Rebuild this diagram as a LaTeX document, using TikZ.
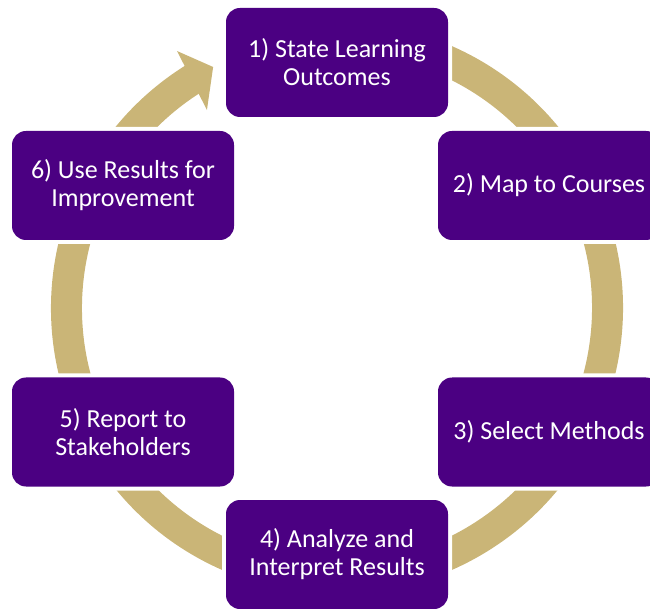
\documentclass[tikz,border=0pt]{standalone}
\usepackage{fontspec}
\setmainfont{Carlito}
\definecolor{uwpurple}{RGB}{75,0,130}
\definecolor{uwgold}{RGB}{202,181,119}
\begin{document}
\begin{tikzpicture}[x=1pt,y=1pt,
  stage/.style={fill=uwpurple, rounded corners=14pt, minimum width=222pt,
    minimum height=109pt, text=white, align=center, inner sep=0pt,
    font=\fontsize{26}{28}\selectfont, preaction={draw=white, line width=8pt}},
  ring/.style={draw=uwgold, line width=31pt},
  head/.style={fill=uwgold}]
\useasboundingbox (0,0) rectangle (650,608);
\clip (0,0) rectangle (650,608);
\coordinate (c) at (337,300);
% cycle ring with arrowhead into stage 1
\draw[ring] (c) ++(122:270.5) arc[start angle=122, end angle=450, radius=270.5];
\fill[head, shift={(337,300)}] (121.9:302.7) -- (117.2:271) -- (123.3:236.9) -- cycle;
% stages
\node[stage] (b1) at (337,545.5) {1) State Learning\\Outcomes};
\node[stage] (b2) at (549,422.5) {2) Map to Courses};
\node[stage] (b3) at (549,176) {3) Select Methods};
\node[stage] (b4) at (337,53.5) {4) Analyze and\\Interpret Results};
\node[stage] (b5) at (123,176) {5) Report to\\Stakeholders};
\node[stage] (b6) at (123,422.5) {6) Use Results for\\Improvement};
\end{tikzpicture}
\end{document}
